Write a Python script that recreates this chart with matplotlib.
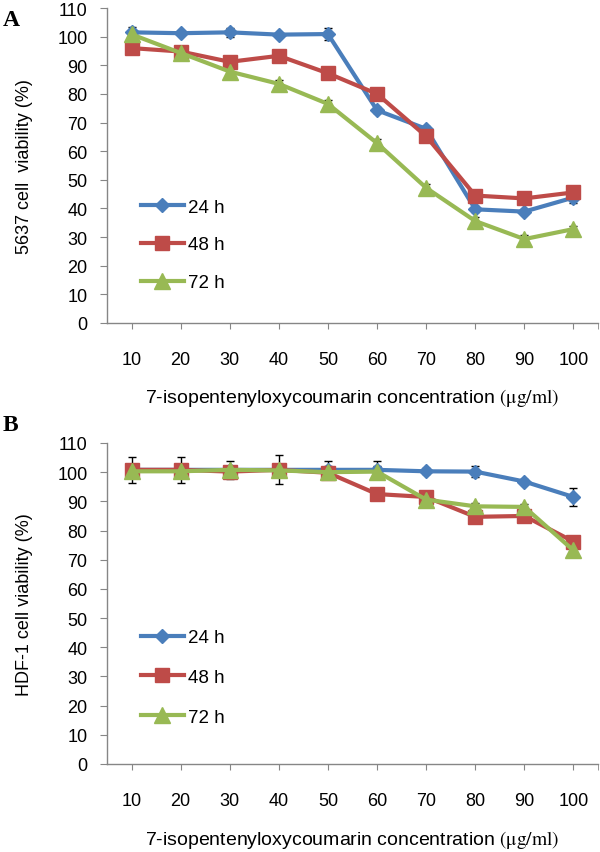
import numpy as np
import matplotlib
matplotlib.use("Agg")
import matplotlib.pyplot as plt

plt.rcParams['font.family'] = ['Liberation Sans', 'DejaVu Sans']
plt.rcParams['mathtext.fontset'] = 'stix'

# data
conc = ["10", "20", "30", "40", "50", "60", "70", "80", "90", "100"]
labels = ["24 h", "48 h", "72 h"]

# panel A: 5637 cells
a_24 = [101.5, 101.2, 101.5, 100.7, 100.9, 74.3, 67.8, 39.7, 38.9, 43.8]
a_48 = [96.0, 94.8, 91.2, 93.3, 87.2, 80.0, 65.2, 44.5, 43.5, 45.6]
a_72 = [100.8, 94.3, 87.8, 83.5, 76.5, 62.8, 47.2, 35.6, 29.3, 32.8]
a_24_err = [2.0, 0.5, 1.5, 0.5, 2.0, 1.0, 1.0, 1.0, 1.0, 2.0]
a_48_err = [1.0, 1.0, 1.0, 1.0, 1.0, 1.0, 1.0, 1.0, 1.0, 1.0]
a_72_err = [1.0, 1.0, 1.0, 1.5, 1.5, 1.5, 1.5, 1.5, 1.5, 1.0]

# panel B: HDF-1 cells
b_24 = [100.8, 100.8, 100.8, 100.8, 100.8, 100.8, 100.3, 100.2, 96.8, 91.5]
b_48 = [100.8, 100.8, 100.2, 100.8, 99.8, 92.5, 91.5, 84.7, 85.0, 76.2]
b_72 = [100.3, 100.3, 100.8, 100.6, 100.0, 100.2, 90.6, 88.3, 88.1, 73.2]
b_24_err = [4.5, 4.5, 3.0, 5.0, 3.0, 3.0, 1.0, 2.0, 1.0, 3.0]
b_48_err = [2.0, 2.0, 2.0, 2.0, 2.0, 2.0, 1.0, 1.0, 1.0, 1.0]
b_72_err = [2.0, 2.0, 1.0, 2.0, 2.0, 2.0, 1.0, 1.0, 1.0, 1.0]

colors = ['#4A7EBB', '#BE4B48', '#98B954']
markers = ['D', 's', '^']
msizes = [7.5, 10.5, 11]
axis_gray = '#868686'
xlabel_text = r"7-isopentenyloxycoumarin concentration $\mathrm{(μg/ml)}$"


def draw_panel(ax, series, errs, ylabel, legend_y, xlabel_y, spacing):
    for vals, err, c, m, ms, lab in zip(series, errs, colors, markers, msizes, labels):
        ax.errorbar(conc, vals, yerr=err, fmt='none', ecolor='black',
                    elinewidth=1, capsize=3, capthick=1, zorder=2)
        ax.plot(conc, vals, color=c, marker=m, markersize=ms, lw=3,
                markeredgecolor=c, label=lab, zorder=3)
    ax.set_xlim(-0.5, len(conc) - 0.5)
    ax.set_ylim(0, 110)
    ax.set_yticks(np.arange(0, 111, 10))
    for s in ['top', 'right']:
        ax.spines[s].set_visible(False)
    for s in ['left', 'bottom']:
        ax.spines[s].set_color(axis_gray)
        ax.spines[s].set_linewidth(1)
    ax.tick_params(axis='x', direction='out', length=4, color=axis_gray,
                   pad=16, labelsize=13)
    ax.tick_params(axis='y', direction='out', length=5, color=axis_gray,
                   pad=9, labelsize=13)
    ax.set_xticks([len(conc) - 0.5], minor=True)
    ax.tick_params(axis='x', which='minor', length=4, color=axis_gray)
    ax.set_ylabel(ylabel, fontsize=13)
    ax.yaxis.set_label_coords(-0.151, 0.5)
    ax.set_xlabel(xlabel_text, fontsize=14)
    ax.xaxis.set_label_coords(0.5, xlabel_y)
    ax.legend(loc='center left', bbox_to_anchor=(0.069, legend_y), frameon=False,
              fontsize=13.5, handlelength=2.3, handletextpad=0.2,
              labelspacing=spacing, numpoints=1, borderpad=0, borderaxespad=0)


fig = plt.figure(figsize=(6, 8.53), dpi=100)
axA = fig.add_axes([107 / 600, 1 - 324 / 853, 491 / 600, 315 / 853])
axB = fig.add_axes([107 / 600, 1 - 765 / 853, 491 / 600, 321 / 853])

draw_panel(axA, [a_24, a_48, a_72], [a_24_err, a_48_err, a_72_err],
           "5637 cell  viability (%)", 0.248, -0.2, 1.1)
draw_panel(axB, [b_24, b_48, b_72], [b_24_err, b_48_err, b_72_err],
           "HDF-1 cell viability (%)", 0.27, -0.198, 1.2)

fig.text(3 / 600, 1 - 21 / 853, "A", fontsize=17, fontweight='bold',
         family='Liberation Serif', va='center', ha='left')
fig.text(3 / 600, 1 - 426 / 853, "B", fontsize=17, fontweight='bold',
         family='Liberation Serif', va='center', ha='left')

fig.savefig("out.png", dpi=100)
